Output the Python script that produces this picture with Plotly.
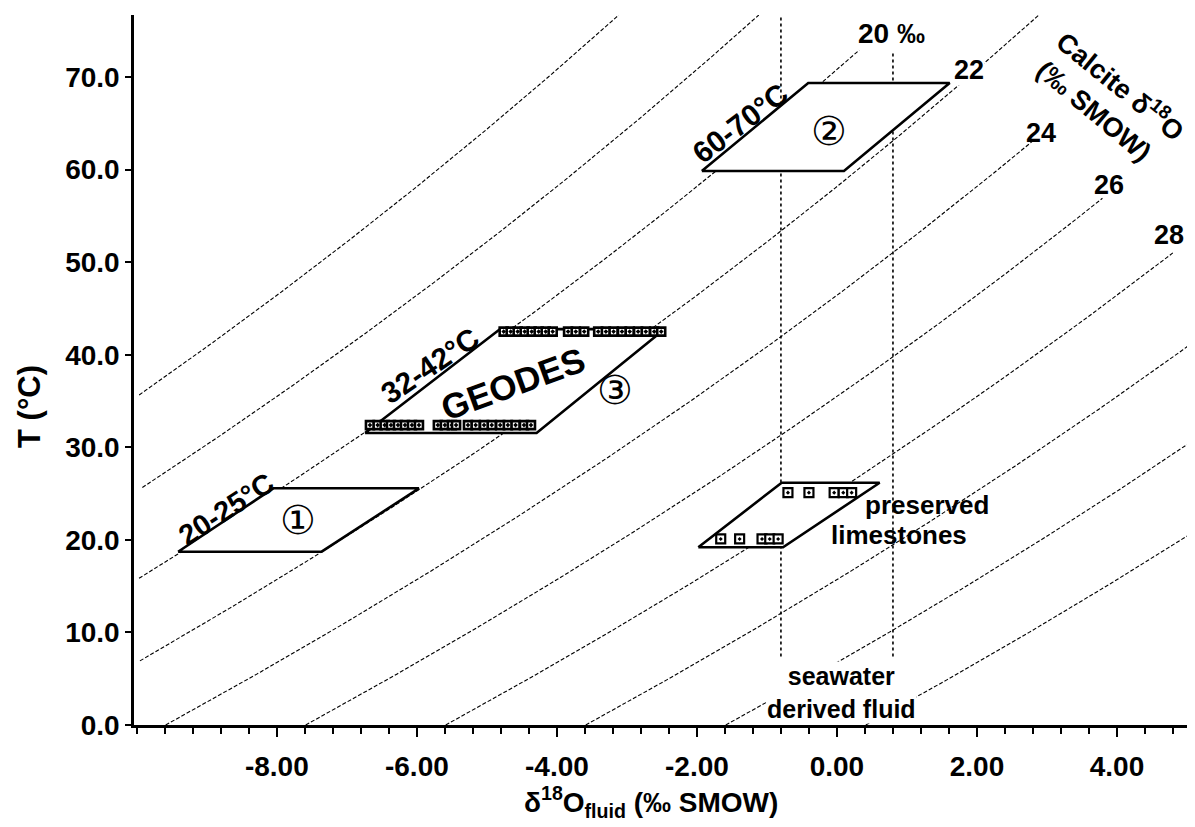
import numpy as np
import plotly.graph_objects as go

# ---------------- data ----------------
# calcite d18O isolines (permil SMOW) and where each drawn line stops (deg C)
calcite_d18o = [16, 18, 20, 22, 24, 26, 28, 30, 32, 34]
curve_top_T = [76.7, 76.7, 72.9, 76.7, 63.2, 56.9, 51.0, 76.7, 76.7, 76.7]
# calcite-water fractionation: 1000 ln(alpha) = A / T(K) - B
frac_A = 18030.0
frac_B = 32.42

# parallelograms (x = d18O fluid, y = T)
p1_x = [-9.41, -7.36, -5.97, -8.05]
p1_y = [18.72, 18.72, 25.57, 25.57]
p2_x = [-1.93, 0.10, 1.61, -0.41]
p2_y = [59.85, 59.85, 69.35, 69.35]
p3_x = [-6.74, -4.29, -2.46, -4.81]
p3_y = [31.54, 31.54, 42.77, 42.77]
p4_x = [-1.98, -0.77, 0.61, -0.79]
p4_y = [19.2, 19.2, 26.17, 26.17]

# seawater-derived fluid bounds (x, bottom T, top T)
seawater_x = [-0.8, 0.8]
seawater_T_bottom = [7.4, 7.4]
seawater_T_top = [76.7, 72.7]

# measured samples
geode_bottom_x = [-6.67, -6.56, -6.46, -6.37, -6.27, -6.17, -6.07, -5.97, -5.70, -5.60,
                  -5.50, -5.44, -5.27, -5.16, -5.04, -4.93, -4.81, -4.70, -4.59, -4.47, -4.37]
geode_bottom_T = 32.4
geode_top_x = [-4.76, -4.66, -4.56, -4.46, -4.36, -4.26, -4.16, -4.06, -3.84, -3.73, -3.61,
               -3.41, -3.30, -3.19, -3.07, -2.96, -2.84, -2.73, -2.61, -2.51]
geode_top_T = 42.5
lime_top_x = [-0.70, -0.40, -0.04, 0.09, 0.21]
lime_top_T = 25.1
lime_bottom_x = [-1.66, -1.39, -1.07, -0.96, -0.84]
lime_bottom_T = 20.1

x_ticks = [-8, -6, -4, -2, 0, 2, 4]
x_tick_text = ["-8.00", "-6.00", "-4.00", "-2.00", "0.00", "2.00", "4.00"]
y_ticks = [0, 10, 20, 30, 40, 50, 60, 70]
x_range = [-10.04, 5.114]
y_range = [0, 76.7]

FONT = "Liberation Sans, Arial, Helvetica, sans-serif"
CIRC_FONT = "DejaVu Sans, Noto Sans CJK JP"

fig = go.Figure()

# isolines of constant calcite d18O
for dc, ttop in zip(calcite_d18o, curve_top_T):
    T = np.linspace(0, ttop, 300)
    dw = dc - (frac_A / (T + 273.15) - frac_B)
    keep = dw >= -9.97
    fig.add_trace(go.Scatter(x=dw[keep], y=T[keep], mode="lines",
                             line=dict(color="black", width=1.1, dash="4px,2px"),
                             hoverinfo="skip"))

# vertical dotted lines
for sx, tb, tt in zip(seawater_x, seawater_T_bottom, seawater_T_top):
    fig.add_trace(go.Scatter(x=[sx, sx], y=[tb, tt], mode="lines",
                             line=dict(color="black", width=1.6, dash="dot"),
                             hoverinfo="skip"))

# parallelograms
for px, py in [(p1_x, p1_y), (p2_x, p2_y), (p3_x, p3_y), (p4_x, p4_y)]:
    fig.add_trace(go.Scatter(x=px + [px[0]], y=py + [py[0]], mode="lines",
                             fill="toself", fillcolor="white",
                             line=dict(color="black", width=2.6),
                             hoverinfo="skip"))

# sample markers
for xs, t, size, lw in [(geode_bottom_x, geode_bottom_T, 8, 2.6),
                        (geode_top_x, geode_top_T, 8, 2.6),
                        (lime_top_x, lime_top_T, 9, 2.2),
                        (lime_bottom_x, lime_bottom_T, 9, 2.2)]:
    fig.add_trace(go.Scatter(x=xs, y=[t] * len(xs), mode="markers",
                             marker=dict(symbol="square-dot", size=size, color="white",
                                         line=dict(color="black", width=lw)),
                             hoverinfo="skip"))

def ann(text, x, y, size, angle=0, bg=None, bold=True, family=FONT):
    d = dict(text=text, x=x, y=y, xref="x", yref="y", showarrow=False,
             textangle=angle, xanchor="center", yanchor="middle",
             font=dict(family=family, size=size, color="black",
                       weight="bold" if bold else "normal"))
    if bg:
        d["bgcolor"] = bg
        d["borderpad"] = 0
    fig.add_annotation(**d)

ann("20-25°C", -8.72, 23.3, 29, -33)
ann("32-42°C", -5.81, 38.8, 30, -34)
ann("60-70°C", -1.39, 65.0, 30, -37)
ann("GEODES", -4.62, 36.9, 35, -20)
ann("①", -7.70, 22.1, 40, bold=False, family=CIRC_FONT)
ann("②", -0.11, 64.2, 40, bold=False, family=CIRC_FONT)
ann("③", -3.17, 36.2, 40, bold=False, family=CIRC_FONT)
ann("20 ‰", 0.78, 74.7, 28, bg="white")
ann("22", 1.89, 70.8, 27, bg="white")
ann("24", 2.92, 63.9, 27)
ann("26", 3.88, 58.3, 27)
ann("28", 4.74, 52.9, 27)
ann("Calcite δ<sup>18</sup>O", 4.06, 69.1, 27, 39)
ann("(‰ SMOW)", 3.66, 66.3, 27, 40)
ann("preserved", 1.28, 23.8, 26)
ann("limestones", 0.88, 20.5, 26)
ann("seawater<br>derived fluid", 0.07, 3.5, 25, bg="white")

# axis titles
fig.add_annotation(text="δ<sup>18</sup>O<sub>fluid</sub> (‰ SMOW)", xref="paper", yref="paper",
                   x=0.487, y=-0.108, xanchor="center", yanchor="middle", showarrow=False,
                   font=dict(family=FONT, size=28, color="black", weight="bold"))
fig.add_annotation(text="T (°C)", xref="paper", yref="paper",
                   x=-0.098, y=0.448, xanchor="center", yanchor="middle", showarrow=False,
                   textangle=-90,
                   font=dict(family=FONT, size=31, color="black", weight="bold"))

fig.update_xaxes(range=x_range, tickvals=x_ticks, ticktext=x_tick_text,
                 showline=True, linecolor="black", linewidth=2.5,
                 ticks="outside", ticklen=9, tickwidth=2, tickcolor="black",
                 minor=dict(dtick=0.4, tick0=-10, ticks="outside", ticklen=6,
                            tickwidth=2, tickcolor="black", showgrid=False),
                 showgrid=False, zeroline=False, ticklabelstandoff=6,
                 tickfont=dict(family=FONT, size=28, color="black", weight="bold"))
fig.update_yaxes(range=y_range, tickvals=y_ticks, tickformat=".1f",
                 showline=True, linecolor="black", linewidth=2.5,
                 ticks="outside", ticklen=6, tickwidth=2, tickcolor="black",
                 showgrid=False, zeroline=False,
                 tickfont=dict(family=FONT, size=28, color="black", weight="bold"))

# the page body adds an 8px margin, so the figure is sized/offset to compensate
fig.update_layout(width=1187, height=819, showlegend=False,
                  margin=dict(l=126, r=0, t=7, b=102),
                  plot_bgcolor="white", paper_bgcolor="white")

fig.write_html("out.html")
